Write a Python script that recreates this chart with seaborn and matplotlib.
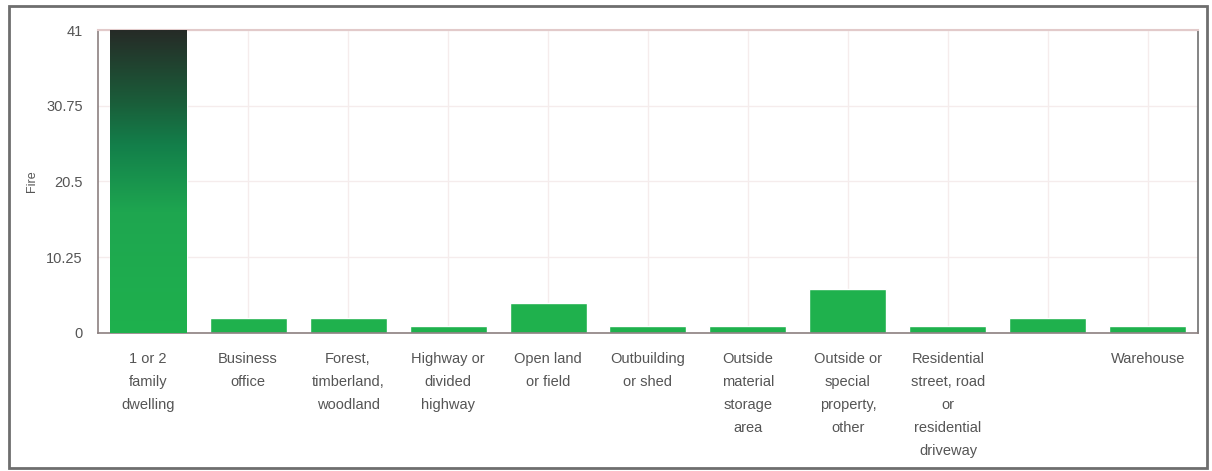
import numpy as np
import pandas as pd
import matplotlib
matplotlib.use("Agg")
import matplotlib.pyplot as plt
from matplotlib.colors import LinearSegmentedColormap
from matplotlib.patches import Rectangle
import seaborn as sns

# Incident counts by property use
categories = [
    "1 or 2\nfamily\ndwelling",
    "Business\noffice",
    "Forest,\ntimberland,\nwoodland",
    "Highway or\ndivided\nhighway",
    "Open land\nor field",
    "Outbuilding\nor shed",
    "Outside\nmaterial\nstorage\narea",
    "Outside or\nspecial\nproperty,\nother",
    "Residential\nstreet, road\nor\nresidential\ndriveway",
    "",
    "Warehouse",
]
fire_counts = [41, 2, 2, 1, 4, 1, 1, 6, 1, 2, 1]
y_ticks = [0, 10.25, 20.5, 30.75, 41]
y_tick_labels = ["0", "10.25", "20.5", "30.75", "41"]

sns.set_theme(style="white")
plt.rcParams["font.family"] = ["Liberation Sans", "DejaVu Sans"]

df = pd.DataFrame({"slot": [f"c{i}" for i in range(len(categories))],
                   "Fire": fire_counts})

fig = plt.figure(figsize=(12.12, 4.71), dpi=100)
ax = fig.add_axes([0.0809, 0.293, 0.9075, 0.6433])

green = "#1fb14d"
sns.barplot(data=df, x="slot", y="Fire", color=green, saturation=1,
            width=0.77, ax=ax, zorder=2)

# Shade the tallest bar with a dark-to-green vertical gradient
tallest = int(np.argmax(fire_counts))
bar = ax.patches[tallest]
grad_cmap = LinearSegmentedColormap.from_list(
    "bar_grad", [(0.0, green), (0.40, "#1ea650"), (0.62, "#137f4a"),
                 (0.76, "#1a5e3a"), (1.0, "#262b27")])
grad = np.linspace(0, 1, 256).reshape(-1, 1)
x0 = bar.get_x()
im = ax.imshow(grad, cmap=grad_cmap, origin="lower", aspect="auto",
               extent=[x0, x0 + bar.get_width(), 0, bar.get_height()], zorder=3)
im.set_clip_path(bar)

ax.set_xlim(-0.5, len(categories) - 0.5)
ax.set_ylim(0, 41)
ax.set_yticks(y_ticks)
ax.set_yticklabels(y_tick_labels)
ax.set_xticks(range(len(categories)))
ax.set_xticklabels(categories, linespacing=1.8, va="top")
ax.set_xlabel("")
ax.set_ylabel("Fire", fontsize=9, color="#555555")
ax.yaxis.set_label_coords(-0.055, 0.5)

# Faint gridlines behind the bars
ax.set_axisbelow(True)
ax.grid(True, axis="both", color="#f5ecec", linewidth=1.0, zorder=0)

ax.tick_params(axis="both", which="both", colors="#777777", labelcolor="#555555",
               labelsize=10.5, length=5, width=1, direction="out")
ax.tick_params(axis="y", pad=6)
ax.tick_params(axis="x", pad=9)

for side in ("left", "bottom"):
    ax.spines[side].set_color("#8c8080")
    ax.spines[side].set_linewidth(1.2)
ax.spines["top"].set_color("#e2caca")
ax.spines["top"].set_linewidth(1.5)
ax.spines["right"].set_color("#707070")
ax.spines["right"].set_linewidth(1.2)

# Outer frame around the whole figure
frame = Rectangle((0.0078, 0.006), 0.988, 0.982, transform=fig.transFigure,
                  fill=False, edgecolor="#6e6e6e", linewidth=2.0, zorder=10)
fig.patches.append(frame)

fig.savefig("out.png", dpi=100, facecolor="white")
